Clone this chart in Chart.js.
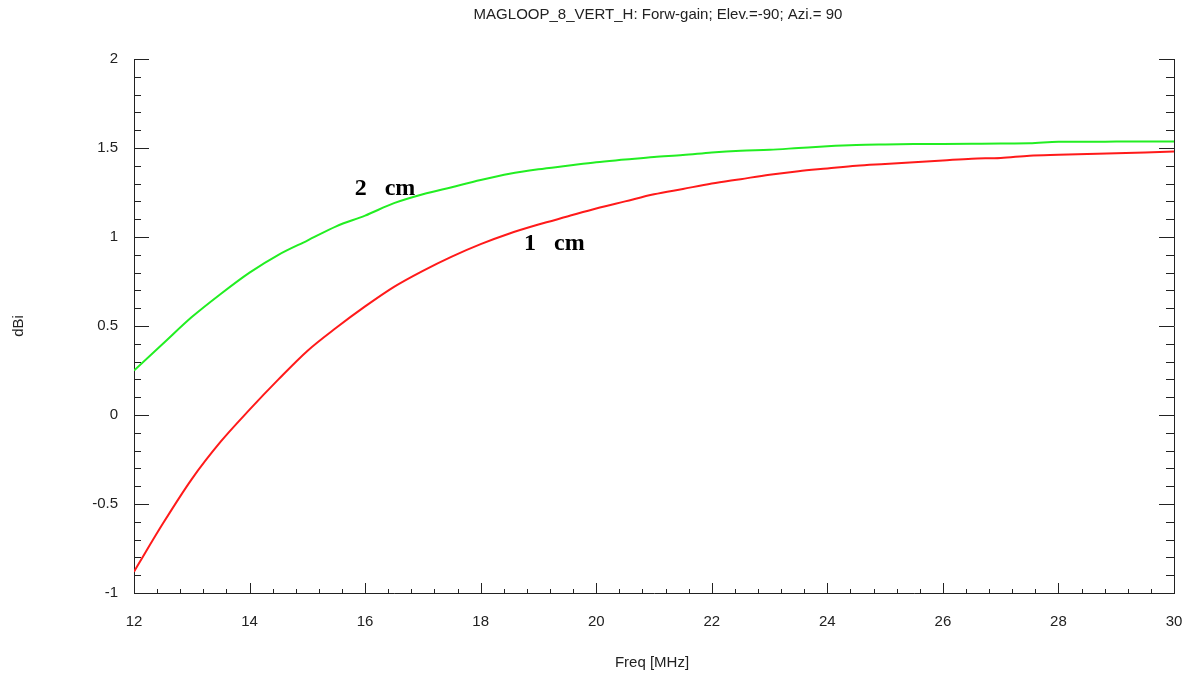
<!DOCTYPE html>
<html lang="en">
<head>
<meta charset="UTF-8">
<title>MAGLOOP_8_VERT_H</title>
<script src="https://cdn.jsdelivr.net/npm/chart.js"></script>
<style>
  html, body { margin: 0; padding: 0; background: #fff; }
  #wrap { width: 1192px; height: 677px; }
</style>
</head>
<body>
<div id="wrap"><canvas id="gainChart" width="1192" height="677"></canvas></div>
<script>
// frequency points (MHz)
const freq = [12, 12.5, 13, 13.5, 14, 14.5, 15, 15.5, 16, 16.5, 17, 17.5, 18, 18.5, 19, 19.5,
  20, 20.5, 21, 21.5, 22, 22.5, 23, 23.5, 24, 24.5, 25, 25.5, 26, 26.5, 27, 27.5, 28, 28.5, 29, 29.5, 30];
// forward gain, 2 cm conductor (dBi)
const gain2cm = [0.25, 0.40, 0.55, 0.68, 0.80, 0.90, 0.98, 1.06, 1.12, 1.19, 1.24, 1.28, 1.32, 1.355,
  1.38, 1.40, 1.42, 1.435, 1.45, 1.46, 1.475, 1.485, 1.49, 1.50, 1.51, 1.517, 1.52, 1.522, 1.523,
  1.524, 1.525, 1.526, 1.535, 1.535, 1.536, 1.537, 1.537];
// forward gain, 1 cm conductor (dBi)
const gain1cm = [-0.88, -0.61, -0.36, -0.15, 0.03, 0.20, 0.36, 0.49, 0.61, 0.72, 0.81, 0.89, 0.96, 1.02,
  1.07, 1.115, 1.16, 1.20, 1.24, 1.27, 1.30, 1.325, 1.35, 1.37, 1.385, 1.40, 1.41, 1.42, 1.43,
  1.44, 1.444, 1.457, 1.462, 1.466, 1.47, 1.475, 1.48];

const xTicks = [12, 14, 16, 18, 20, 22, 24, 26, 28, 30];
const yTicks = [-1, -0.5, 0, 0.5, 1, 1.5, 2];

// curve labels: text, freq, dBi
const curveLabels = [
  ['2   cm', 15.82, 1.235],
  ['1   cm', 18.75, 0.925]
];

const titleText = 'MAGLOOP_8_VERT_H: Forw-gain; Elev.=-90; Azi.= 90';
const font = '"Liberation Sans", Arial, sans-serif';

// inward ticks, title, axis titles and curve labels
const decor = {
  id: 'decor',
  afterDraw(chart) {
    const c = chart.ctx, a = chart.chartArea;
    const xs = chart.scales.x, ys = chart.scales.y;
    c.save();
    c.strokeStyle = '#222';
    c.lineWidth = 1;
    c.beginPath();
    for (let i = 0; i <= 45; i++) {
      const v = 12 + i * 0.4;
      const px = Math.round(xs.getPixelForValue(v)) + 0.5;
      const len = (i % 5 === 0) ? 10 : 4;
      c.moveTo(px, a.bottom);
      c.lineTo(px, a.bottom - len);
    }
    for (let i = 0; i <= 30; i++) {
      const v = -1 + i * 0.1;
      const py = Math.round(ys.getPixelForValue(v)) + 0.5;
      const major = i % 5 === 0;
      c.moveTo(a.left, py);
      c.lineTo(a.left + (major ? 15 : 7), py);
      c.moveTo(a.right, py);
      c.lineTo(a.right - (major ? 15 : 8), py);
    }
    c.stroke();

    c.fillStyle = '#222';
    c.font = '15px ' + font;
    c.textAlign = 'center';
    c.textBaseline = 'middle';
    c.fillText(titleText, (a.left + a.right) / 2 + 4, 15);
    c.fillText('Freq [MHz]', (a.left + a.right) / 2 - 2, 663);
    c.save();
    c.translate(19, (a.top + a.bottom) / 2);
    c.rotate(-Math.PI / 2);
    c.fillText('dBi', 0, 0);
    c.restore();

    c.fillStyle = '#000';
    c.font = 'bold 24px "Liberation Serif", "Times New Roman", serif';
    c.textAlign = 'left';
    c.textBaseline = 'alphabetic';
    curveLabels.forEach(([t, fx, fy]) => {
      c.fillText(t, xs.getPixelForValue(fx), ys.getPixelForValue(fy));
    });
    c.restore();
  }
};

const ctx = document.getElementById('gainChart').getContext('2d');
new Chart(ctx, {
  type: 'line',
  data: {
    datasets: [
      {
        label: '2 cm',
        data: freq.map((f, i) => ({ x: f, y: gain2cm[i] })),
        borderColor: '#22ee22',
        borderWidth: 2,
        pointRadius: 0,
        cubicInterpolationMode: 'monotone',
        fill: false
      },
      {
        label: '1 cm',
        data: freq.map((f, i) => ({ x: f, y: gain1cm[i] })),
        borderColor: '#ff1a1a',
        borderWidth: 2,
        pointRadius: 0,
        cubicInterpolationMode: 'monotone',
        fill: false
      }
    ]
  },
  options: {
    responsive: false,
    animation: false,
    layout: { padding: { top: 59, left: 0, right: 0, bottom: 0 } },
    plugins: { legend: { display: false }, tooltip: { enabled: false }, title: { display: false } },
    scales: {
      x: {
        type: 'linear',
        min: 12, max: 30,
        afterFit: s => { s.height = 84; s.paddingLeft = 0; s.paddingRight = 0; },
        afterBuildTicks: s => { s.ticks = xTicks.map(v => ({ value: v })); },
        grid: { display: false, drawTicks: false },
        border: { display: true, color: '#222', width: 1 },
        ticks: { padding: 20, color: '#222', font: { family: font, size: 15 } }
      },
      y: {
        min: -1, max: 2,
        afterFit: s => { s.width = 134; s.paddingTop = 0; s.paddingBottom = 0; },
        afterBuildTicks: s => { s.ticks = yTicks.map(v => ({ value: v })); },
        grid: { display: false, drawTicks: false },
        border: { display: true, color: '#222', width: 1 },
        ticks: { padding: 16, color: '#222', font: { family: font, size: 15 }, callback: v => String(v) }
      },
      y2: {
        position: 'right',
        min: -1, max: 2,
        afterFit: s => { s.width = 18; },
        grid: { display: false, drawTicks: false },
        border: { display: true, color: '#222', width: 1 },
        ticks: { display: false }
      }
    }
  },
  plugins: [decor]
});
</script>
</body>
</html>
